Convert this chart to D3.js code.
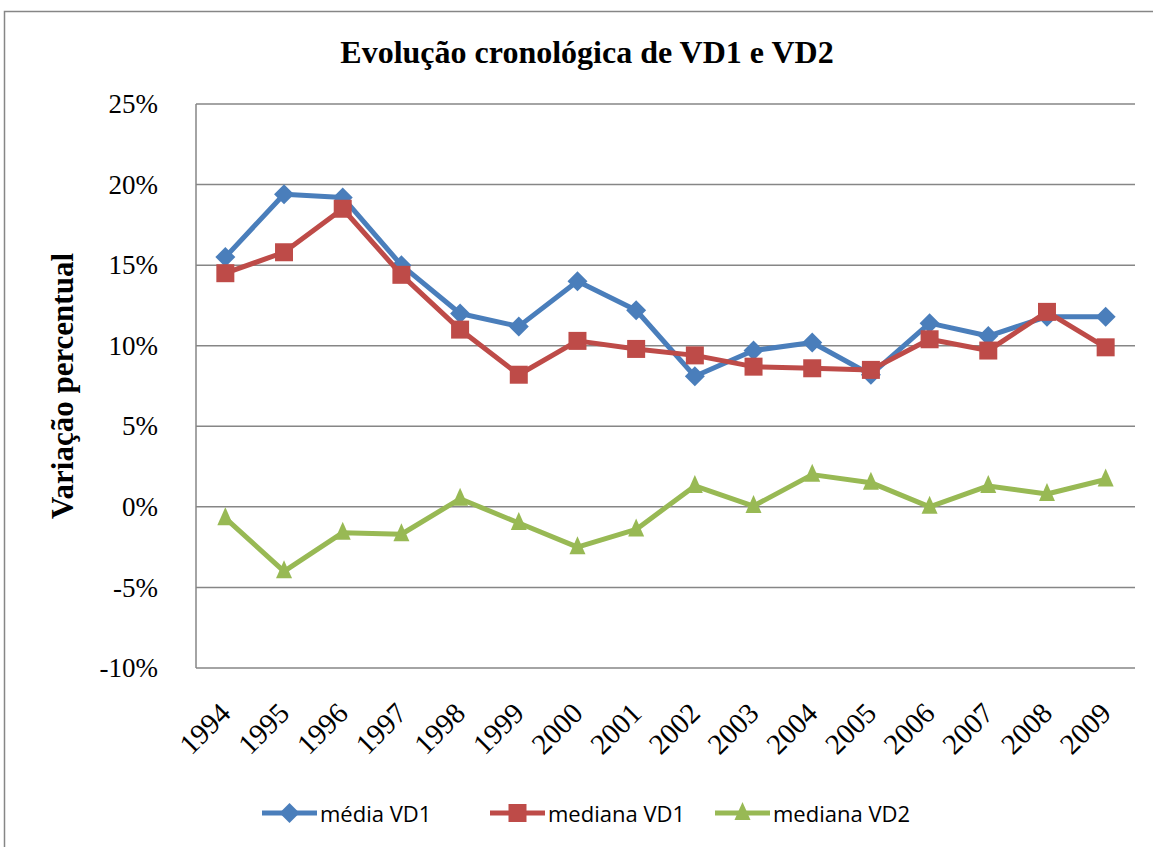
<!DOCTYPE html>
<html>
<head>
<meta charset="utf-8">
<script src="https://cdn.jsdelivr.net/npm/d3@7"></script>
<style>
  body { margin: 0; background: #fff; }
  svg { display: block; }
</style>
</head>
<body>
<div id="chart"></div>
<script>
const years = ['1994','1995','1996','1997','1998','1999','2000','2001','2002','2003','2004','2005','2006','2007','2008','2009'];
const mediaVD1 = [15.5, 19.4, 19.2, 15.0, 12.0, 11.2, 14.0, 12.2, 8.1, 9.7, 10.2, 8.2, 11.4, 10.6, 11.8, 11.8];
const medianaVD1 = [14.5, 15.8, 18.5, 14.4, 11.0, 8.2, 10.3, 9.8, 9.4, 8.7, 8.6, 8.5, 10.4, 9.7, 12.1, 9.9];
const medianaVD2 = [-0.7, -4.0, -1.6, -1.7, 0.5, -1.0, -2.5, -1.4, 1.3, 0.05, 2.0, 1.5, 0.0, 1.3, 0.8, 1.7];
const yTicks = [-10, -5, 0, 5, 10, 15, 20, 25];

// marker shapes (Excel style): diamond, square, triangle
const diamond = 'M0,-10L10,0L0,10L-10,0Z';
const square = 'M-9,-9H9V9H-9Z';
const triangle = 'M0,-11L8,7H-8Z';

const series = [
    { name: 'média VD1', values: mediaVD1, color: '#4A7EBB', marker: diamond },
    { name: 'mediana VD1', values: medianaVD1, color: '#BE4B48', marker: square },
    { name: 'mediana VD2', values: medianaVD2, color: '#98B954', marker: triangle }
];

const width = 1153, height = 847;
const plot = { left: 196, right: 1135, top: 104, bottom: 668 };
const serif = '"Liberation Serif", "Times New Roman", serif';

const svg = d3.select('#chart').append('svg')
    .attr('width', width)
    .attr('height', height);

// outer frame
svg.append('rect')
    .attr('x', 4.5).attr('y', 11.5)
    .attr('width', 1160).attr('height', 850)
    .attr('fill', 'none')
    .attr('stroke', '#868686')
    .attr('stroke-width', 1.5);

const x = d3.scaleBand().domain(years).range([plot.left, plot.right]);
const y = d3.scaleLinear().domain([-10, 25]).range([plot.bottom, plot.top]);

// gridlines
svg.append('g')
    .selectAll('line')
    .data(yTicks)
    .join('line')
    .attr('x1', plot.left).attr('x2', plot.right)
    .attr('y1', d => y(d)).attr('y2', d => y(d))
    .attr('stroke', '#868686')
    .attr('stroke-width', 1.5);

// left axis line
svg.append('line')
    .attr('x1', plot.left).attr('x2', plot.left)
    .attr('y1', plot.top).attr('y2', plot.bottom)
    .attr('stroke', '#868686')
    .attr('stroke-width', 1.5);

// y tick labels
const yAxis = svg.append('g')
    .attr('transform', `translate(${plot.left},0)`)
    .call(d3.axisLeft(y).tickValues(yTicks).tickSize(0).tickPadding(38).tickFormat(d => d + '%'));
yAxis.select('.domain').remove();
yAxis.selectAll('text')
    .attr('font-family', serif)
    .attr('font-size', 27)
    .attr('fill', '#000');

// x tick labels
const xAxis = svg.append('g')
    .attr('transform', `translate(0,${plot.bottom})`)
    .call(d3.axisBottom(x).tickSize(0).tickPadding(0));
xAxis.select('.domain').remove();
xAxis.selectAll('text')
    .attr('font-family', serif)
    .attr('font-size', 29)
    .attr('fill', '#000')
    .attr('text-anchor', 'end')
    .attr('dy', 0)
    .attr('transform', 'translate(7,47) rotate(-45)');

// lines and markers
const line = d3.line()
    .x((d, i) => x(years[i]) + x.bandwidth() / 2)
    .y(d => y(d));

series.forEach(s => {
    svg.append('path')
        .datum(s.values)
        .attr('fill', 'none')
        .attr('stroke', s.color)
        .attr('stroke-width', 5)
        .attr('stroke-linejoin', 'round')
        .attr('d', line);
    svg.append('g')
        .selectAll('path')
        .data(s.values)
        .join('path')
        .attr('d', s.marker)
        .attr('transform', (d, i) => `translate(${x(years[i]) + x.bandwidth() / 2},${y(d)})`)
        .attr('fill', s.color);
});

// title
svg.append('text')
    .attr('x', 587).attr('y', 63)
    .attr('text-anchor', 'middle')
    .attr('font-family', serif)
    .attr('font-weight', 'bold')
    .attr('font-size', 32)
    .text('Evolução cronológica de VD1 e VD2');

// y axis title
svg.append('text')
    .attr('transform', 'translate(73,386) rotate(-90)')
    .attr('text-anchor', 'middle')
    .attr('font-family', serif)
    .attr('font-weight', 'bold')
    .attr('font-size', 31)
    .text('Variação percentual');

// legend
const legendX = [262, 490, 715];
const legend = svg.append('g')
    .selectAll('g')
    .data(series)
    .join('g')
    .attr('transform', (d, i) => `translate(${legendX[i]},813)`);
legend.append('line')
    .attr('x1', 0).attr('x2', 55)
    .attr('stroke', d => d.color)
    .attr('stroke-width', 5);
legend.append('path')
    .attr('d', d => d.marker)
    .attr('transform', 'translate(27.5,0)')
    .attr('fill', d => d.color);
legend.append('text')
    .attr('x', 58).attr('y', 9)
    .attr('font-family', '"Open Sans", "Liberation Sans", sans-serif')
    .attr('font-size', 22)
    .attr('fill', '#000')
    .text(d => d.name);
</script>
</body>
</html>
